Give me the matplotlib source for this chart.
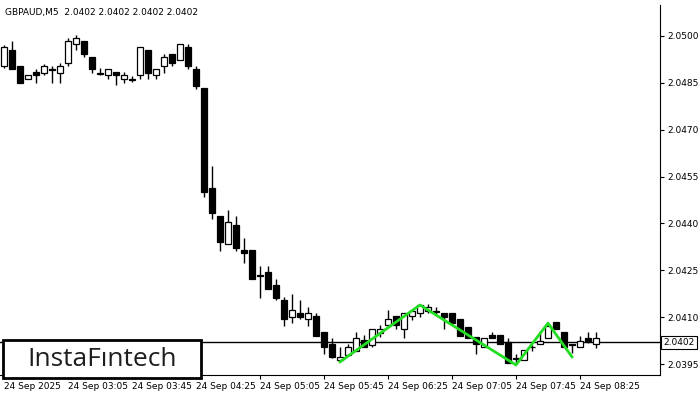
import matplotlib
matplotlib.use("Agg")
import matplotlib.pyplot as plt
from matplotlib.patches import Rectangle

opens = [2.04904,2.04955,2.04904,2.04862,2.04885,2.04881,2.04894,2.04881,2.04913,2.04974,
         2.04984,2.04933,2.04881,2.04875,2.04885,2.04862,2.04862,2.04875,2.04955,2.04875,
         2.04904,2.04942,2.04923,2.04965,2.04894,2.04833,2.04513,2.04424,2.04335,2.04395,
         2.04315,2.04315,2.04235,2.04245,2.04203,2.04155,2.04100,2.04113,2.04093,2.04103,
         2.04053,2.04014,2.03963,2.03979,2.03992,2.04027,2.04011,2.04049,2.04075,2.04103,
         2.04062,2.04103,2.04113,2.04119,2.04119,2.04113,2.04113,2.04093,2.04068,2.04037,
         2.04005,2.04043,2.04043,2.04021,2.03970,2.03963,2.04005,2.04014,2.04033,2.04084,
         2.04053,2.04014,2.04005,2.04033,2.04014]
highs = [2.04971,2.04984,2.04904,2.04875,2.04894,2.04910,2.04904,2.04913,2.04993,2.05003,
         2.04984,2.04933,2.04897,2.04894,2.04885,2.04885,2.04872,2.04965,2.04955,2.04894,
         2.04942,2.04942,2.04974,2.04974,2.04904,2.04833,2.04584,2.04424,2.04443,2.04424,
         2.04353,2.04315,2.04264,2.04264,2.04222,2.04165,2.04175,2.04155,2.04133,2.04113,
         2.04053,2.04033,2.04005,2.04014,2.04053,2.04043,2.04062,2.04075,2.04123,2.04103,
         2.04113,2.04119,2.04142,2.04142,2.04133,2.04113,2.04113,2.04093,2.04068,2.04037,
         2.04033,2.04053,2.04043,2.04033,2.03982,2.03995,2.04011,2.04056,2.04081,2.04084,
         2.04053,2.04014,2.04040,2.04053,2.04053]
lows = [2.04897,2.04894,2.04849,2.04862,2.04849,2.04875,2.04849,2.04849,2.04904,2.04955,
        2.04933,2.04881,2.04875,2.04862,2.04843,2.04849,2.04853,2.04862,2.04862,2.04862,
        2.04881,2.04904,2.04923,2.04894,2.04830,2.04485,2.04414,2.04312,2.04335,2.04312,
        2.04274,2.04222,2.04161,2.04190,2.04155,2.04072,2.04081,2.04093,2.04072,2.04040,
        2.03982,2.03970,2.03963,2.03979,2.03992,2.04005,2.04005,2.04037,2.04068,2.04062,
        2.04033,2.04090,2.04100,2.04113,2.04110,2.04062,2.04081,2.04040,2.04033,2.03982,
        2.04005,2.04033,2.04014,2.03953,2.03953,2.03963,2.03992,2.04014,2.04033,2.04062,
        2.04005,2.03985,2.04005,2.04017,2.04001]
closes = [2.04965,2.04894,2.04849,2.04875,2.04875,2.04904,2.04892,2.04904,2.04984,2.04993,
          2.04942,2.04894,2.04879,2.04894,2.04875,2.04875,2.04860,2.04965,2.04881,2.04894,
          2.04933,2.04913,2.04974,2.04904,2.04840,2.04501,2.04433,2.04341,2.04405,2.04321,
          2.04306,2.04222,2.04233,2.04190,2.04161,2.04093,2.04123,2.04100,2.04113,2.04040,
          2.04005,2.03973,2.03973,2.04005,2.04033,2.04005,2.04062,2.04062,2.04093,2.04075,
          2.04113,2.04119,2.04139,2.04133,2.04117,2.04100,2.04081,2.04040,2.04033,2.04014,
          2.04033,2.04033,2.04014,2.03953,2.03967,2.03995,2.04003,2.04024,2.04071,2.04062,
          2.04005,2.04012,2.04024,2.04024,2.04033]

pattern_idx = [42, 52, 64, 68, 71]
pattern_price = [2.03957, 2.04139, 2.03947, 2.04081, 2.03973]

xtick_idx = [0, 8, 16, 24, 32, 40, 48, 56, 64, 72]
xtick_labels = ["24 Sep 2025", "24 Sep 03:05", "24 Sep 03:45", "24 Sep 04:25", "24 Sep 05:05",
                "24 Sep 05:45", "24 Sep 06:25", "24 Sep 07:05", "24 Sep 07:45", "24 Sep 08:25"]
yticks = [2.0500, 2.0485, 2.0470, 2.0455, 2.0440, 2.0425, 2.0410, 2.0395]
last_price = 2.0402
title = "GBPAUD,M5  2.0402 2.0402 2.0402 2.0402"

fig = plt.figure(figsize=(7, 4), dpi=100)
ax = fig.add_axes([0.0, 0.0625, 660/700, 370/400])
ax.set_xlim(-0.5, 82)
ax.set_ylim(2.03915, 2.05099)

w = 0.7
for i, (o, h, l, c) in enumerate(zip(opens, highs, lows, closes)):
    ax.vlines(i, l, h, color="black", lw=1, zorder=2)
    bottom = min(o, c)
    height = max(abs(c - o), 0.000006)
    fc = "white" if c > o else "black"
    ax.add_patch(Rectangle((i - w/2, bottom), w, height, facecolor=fc,
                           edgecolor="black", lw=0.9, zorder=3))

ax.axhline(last_price, color="black", lw=1, zorder=1)
ax.plot(pattern_idx, pattern_price, color="#22dd22", lw=2, zorder=4)

ax.yaxis.tick_right()
ax.set_yticks(yticks)
ax.set_yticklabels([f"{v:.4f}" for v in yticks], fontsize=6.5)
ax.set_xticks(xtick_idx)
ax.set_xticklabels(xtick_labels, fontsize=6.5)
ax.tick_params(axis="both", length=3, width=0.8, pad=2)
for lbl in ax.get_xticklabels():
    lbl.set_horizontalalignment("left")
for s in ["top", "left"]:
    ax.spines[s].set_visible(False)

ax.text(1.005, last_price, "2.0402", transform=ax.get_yaxis_transform(), fontsize=6.5,
        va="center", ha="left", zorder=10,
        bbox=dict(facecolor="white", edgecolor="black", lw=0.8, pad=1.5))

fig.text(5/700, 1 - 12/400, title, fontsize=6.5, va="center", ha="left")

fig.patches.append(Rectangle((3/700, 22/400), 198/700, 38/400, transform=fig.transFigure,
                             facecolor="white", edgecolor="black", lw=2, zorder=20))
fig.text(102/700, 41/400, "InstaFıntech", fontsize=19, ha="center", va="center", zorder=21,
         family="Open Sans", weight="medium", color="#1e1e1e")

fig.savefig("out.png", dpi=100)
